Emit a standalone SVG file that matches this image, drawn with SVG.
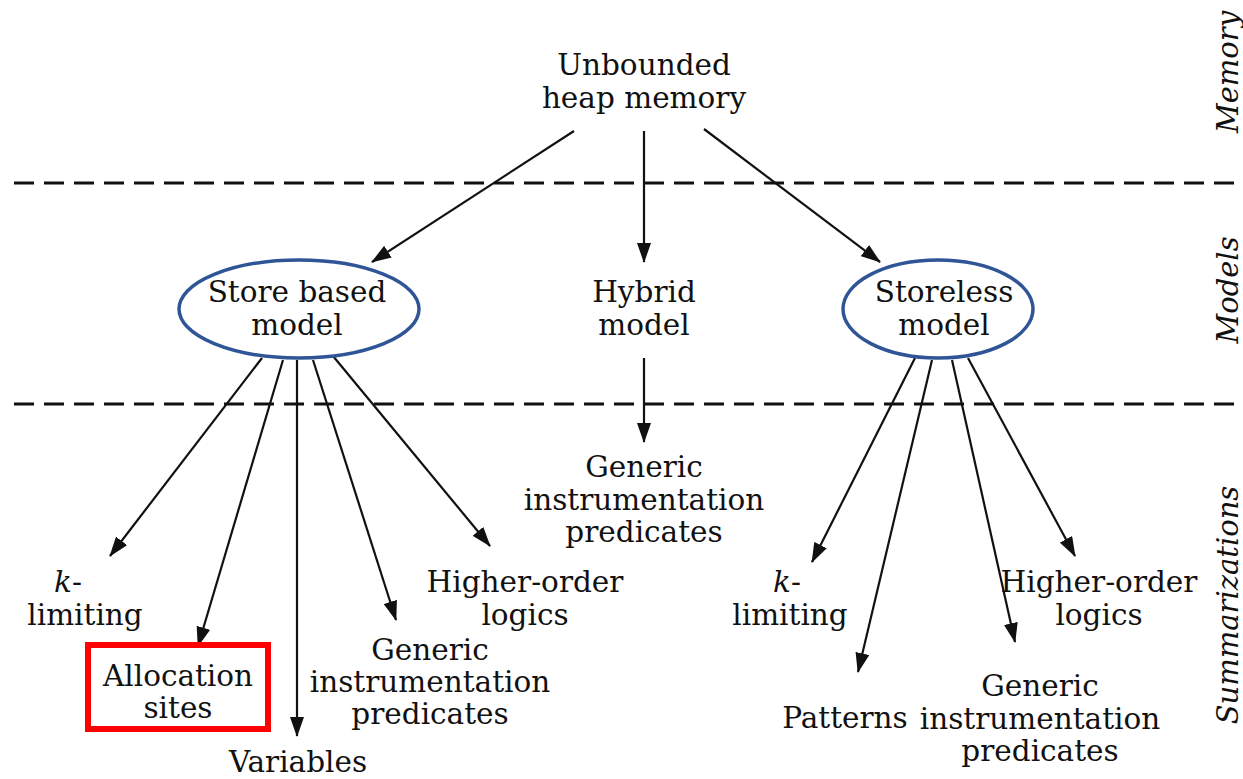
<svg xmlns="http://www.w3.org/2000/svg" width="1243" height="779" viewBox="0 0 1243 779">
<style>
text{font-family:"DejaVu Serif","Liberation Serif",serif;font-size:29.5px;fill:#111;text-anchor:middle}
.side{font-style:italic;font-size:29px}
.edge{stroke:#111;stroke-width:2.2;fill:none;marker-end:url(#ah)}
.dash{stroke:#111;stroke-width:3;stroke-dasharray:20 10;fill:none}
.ell{fill:none;stroke:#2f5597;stroke-width:3.5}
</style>
<defs>
<marker id="ah" markerUnits="userSpaceOnUse" markerWidth="20" markerHeight="14" refX="19" refY="7" orient="auto">
<path d="M0,0 L20,7 L0,14 Z" fill="#111"/>
</marker>
</defs>
<g id="separators">
<line class="dash" x1="14" y1="183" x2="1243" y2="183"/>
<line class="dash" x1="14" y1="404" x2="1243" y2="404"/>
</g>
<g id="layer-labels">
<text class="side" transform="translate(1238,72) rotate(-90)">Memory</text>
<text class="side" transform="translate(1238,290) rotate(-90)">Models</text>
<text class="side" transform="translate(1238,605) rotate(-90)">Summarizations</text>
</g>
<g id="connectors">
<line class="edge" x1="574" y1="131" x2="372" y2="262"/>
<line class="edge" x1="644" y1="131" x2="644" y2="262"/>
<line class="edge" x1="704" y1="129" x2="880" y2="262"/>
<line class="edge" x1="644" y1="358" x2="644" y2="442"/>
<line class="edge" x1="262" y1="358" x2="110" y2="556"/>
<line class="edge" x1="283" y1="360" x2="198" y2="646"/>
<line class="edge" x1="297" y1="360" x2="297" y2="736"/>
<line class="edge" x1="313" y1="360" x2="396" y2="620"/>
<line class="edge" x1="333" y1="356" x2="490" y2="546"/>
<line class="edge" x1="915" y1="358" x2="812" y2="562"/>
<line class="edge" x1="932" y1="360" x2="858" y2="672"/>
<line class="edge" x1="952" y1="360" x2="1015" y2="642"/>
<line class="edge" x1="968" y1="358" x2="1075" y2="556"/>
</g>
<g id="n-memory">
<text x="644" y="75">Unbounded</text>
<text x="644" y="108">heap memory</text>
</g>
<g id="n-store">
<ellipse class="ell" cx="299" cy="309" rx="120" ry="49"/>
<text x="297" y="302">Store based</text>
<text x="297" y="335">model</text>
</g>
<g id="n-hybrid">
<text x="644" y="302">Hybrid</text>
<text x="644" y="335">model</text>
</g>
<g id="n-storeless">
<ellipse class="ell" cx="938" cy="309" rx="95" ry="49"/>
<text x="944" y="302">Storeless</text>
<text x="944" y="335">model</text>
</g>
<g id="n-hybrid-generic">
<text x="644" y="477">Generic</text>
<text x="644" y="510">instrumentation</text>
<text x="644" y="542">predicates</text>
</g>
<g id="n-sb-klimiting">
<text x="68" y="592"><tspan font-style="italic">k</tspan>-</text>
<text x="85" y="625">limiting</text>
</g>
<g id="n-sb-alloc">
<rect x="88" y="645" width="180" height="84" fill="none" stroke="#ff0000" stroke-width="6"/>
<text x="178" y="686">Allocation</text>
<text x="178" y="718">sites</text>
</g>
<g id="n-sb-variables">
<text x="298" y="772">Variables</text>
</g>
<g id="n-sb-generic">
<text x="430" y="660">Generic</text>
<text x="430" y="692">instrumentation</text>
<text x="430" y="724">predicates</text>
</g>
<g id="n-sb-higher">
<text x="525" y="592">Higher-order</text>
<text x="525" y="625">logics</text>
</g>
<g id="n-sl-klimiting">
<text x="787" y="592"><tspan font-style="italic">k</tspan>-</text>
<text x="790" y="625">limiting</text>
</g>
<g id="n-sl-patterns">
<text x="845" y="728">Patterns</text>
</g>
<g id="n-sl-generic">
<text x="1040" y="696">Generic</text>
<text x="1040" y="729">instrumentation</text>
<text x="1040" y="761">predicates</text>
</g>
<g id="n-sl-higher">
<text x="1099" y="592">Higher-order</text>
<text x="1099" y="625">logics</text>
</g>
</svg>
